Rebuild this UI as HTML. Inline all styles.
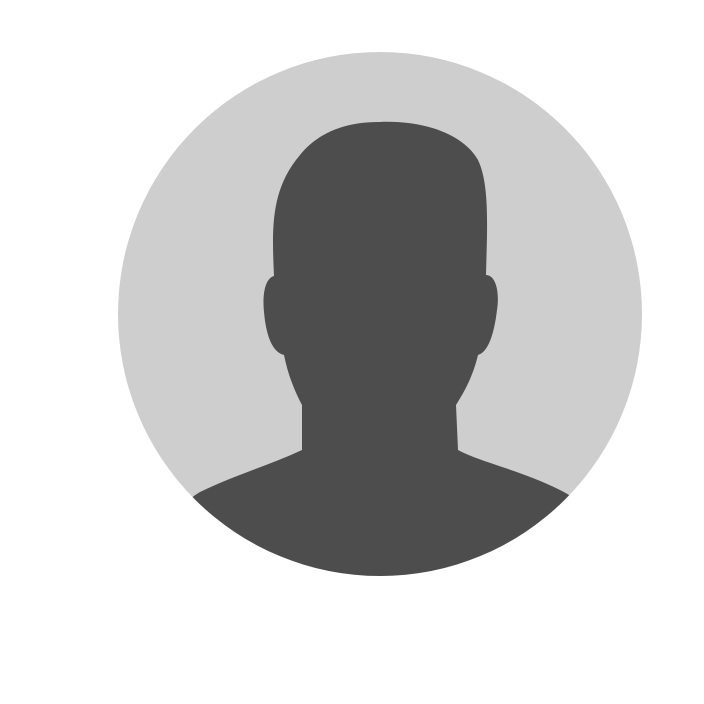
<!DOCTYPE html>
<html><head><meta charset="utf-8"><style>
html,body{margin:0;padding:0;background:#fff;}
svg{display:block;}
</style></head><body>
<svg width="704" height="704" viewBox="0 0 704 704">
<defs><clipPath id="c"><circle cx="380" cy="314" r="262"/></clipPath></defs>
<circle cx="380" cy="314" r="262" fill="#cecece"/>
<g clip-path="url(#c)">
<path fill="#4d4d4d" d="M300 155 C320 130 350 122 378 122 C420 120 462 132 478 160 C490 185 487 230 486 275 C495 275 500 290 497 310 C494 335 488 352 478 355 C472 380 462 395 456 405 L458 450 C480 462 520 470 560 490 C600 510 640 560 640 600 L120 600 C130 560 170 510 200 492 C235 475 270 465 302 450 L302 405 C295 392 288 375 284 355 C272 352 266 335 264 312 C262 292 266 278 274 276 C272 230 270 190 300 155 Z"/>
</g>
</svg>
</body></html>
